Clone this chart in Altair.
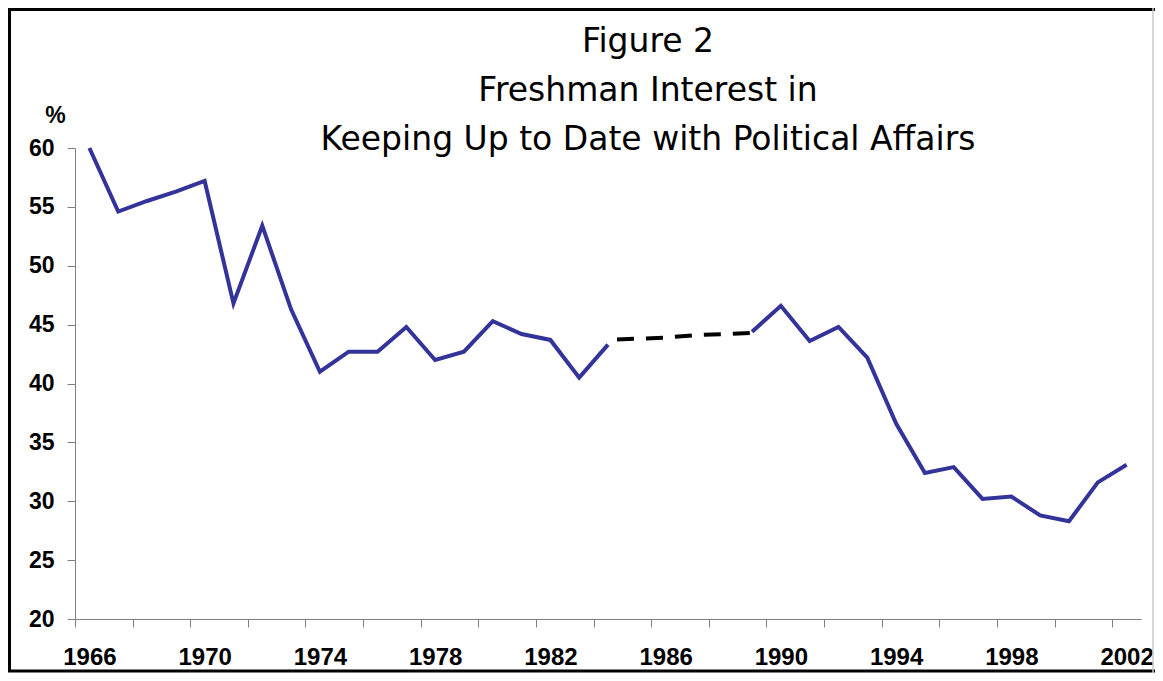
import altair as alt
import pandas as pd

# ---- data ----
years = list(range(1966, 2003))
interest = [60.0, 54.6, 55.5, 56.3, 57.2, 46.8, 53.4, 46.3, 41.0, 42.7,
            42.7, 44.8, 42.0, 42.7, 45.3, 44.2, 43.7, 40.5, 43.3,
            None, None, None, None,
            44.4, 46.6, 43.6, 44.8, 42.2, 36.6, 32.4, 32.9, 30.2, 30.4,
            28.8, 28.3, 31.6, 33.1]
gap_years = [1984, 1985, 1986, 1987, 1988, 1989]
gap_values = [43.7, 43.8, 43.9, 44.1, 44.2, 44.3]
y_ticks = [20, 25, 30, 35, 40, 45, 50, 55, 60]
title_lines = ["Figure 2", "Freshman Interest in",
               "Keeping Up to Date with Political Affairs"]

df = pd.DataFrame({"year": years, "pct": interest})
df["segment"] = ["before" if y < 1985 else "after" for y in years]
df = df.dropna()
gap_df = pd.DataFrame({"year": gap_years, "pct": gap_values})

PAD_L, PAD_T = 67, 140
W, H = 1066, 471
band = W / len(years)
tick_pos = [y - 0.5 for y in years] + [years[-1] + 0.5]

AXIS_GRAY = "#808080"
x_enc = alt.X(
    "year:Q",
    scale=alt.Scale(domain=[years[0] - 0.5, years[-1] + 0.5], nice=False, zero=False),
    axis=alt.Axis(
        values=tick_pos,
        labelExpr="(datum.value + 0.5 - 1966) % 4 == 0 ? format(datum.value + 0.5, 'd') : ''",
        labelOffset=band / 2,
        labelFlush=False,
        labelOverlap=False,
        labelBound=False,
        tickSize=8,
        tickColor=AXIS_GRAY,
        domainColor=AXIS_GRAY,
        labelFont="Liberation Sans",
        labelFontWeight="bold",
        labelFontSize=24,
        labelColor="black",
        labelPadding=18,
        grid=False,
        title=None,
    ),
)
y_enc = alt.Y(
    "pct:Q",
    scale=alt.Scale(domain=[20, 60], nice=False, zero=False),
    axis=alt.Axis(
        values=y_ticks,
        tickSize=8,
        tickColor=AXIS_GRAY,
        domainColor=AXIS_GRAY,
        labelFont="Liberation Sans",
        labelFontWeight="bold",
        labelFontSize=23,
        labelColor="black",
        labelPadding=13,
        grid=False,
        title="%",
        titleAngle=0,
        titleX=-20,
        titleY=-33,
        titleAlign="center",
        titleBaseline="middle",
        titleFont="Liberation Sans",
        titleFontWeight="bold",
        titleFontSize=23,
        titleColor="black",
    ),
)

solid = alt.Chart(df).mark_line(color="#333399", strokeWidth=4).encode(
    x=x_enc, y=y_enc, detail="segment:N"
)
dashed = alt.Chart(gap_df).mark_line(
    color="black", strokeWidth=4, strokeDash=[17, 12], strokeDashOffset=20
).encode(x=alt.X("year:Q"), y=alt.Y("pct:Q"))

frame_data = alt.Data(values=[{"k": 0}])
title_text = alt.Chart(frame_data).mark_text(
    text="\n".join(title_lines),
    lineBreak="\n",
    lineHeight=49,
    font="DejaVu Sans",
    fontSize=33,
    color="black",
    align="center",
    baseline="top",
).encode(x=alt.value(573), y=alt.value(-122))

border = alt.Chart(frame_data).mark_rect(
    fill=None, stroke="black", strokeWidth=3, clip=False
).encode(
    x=alt.value(1.5 - PAD_L), x2=alt.value(1100), y=alt.value(1.5 - PAD_T), y2=alt.value(523)
)
right_edge = alt.Chart(frame_data).mark_rule(color="#c8c8c8", strokeWidth=1.5).encode(
    x=alt.value(1078), y=alt.value(-PAD_T), y2=alt.value(525)
)

chart = (
    alt.layer(solid, dashed, title_text, border, right_edge)
    .properties(
        width=W,
        height=H,
        autosize=alt.AutoSizeParams(type="none"),
        padding={"left": PAD_L, "top": PAD_T, "right": 1147 - PAD_L - W, "bottom": 54},
    )
    .configure(background="white")
    .configure_view(stroke=None)
)

chart.save("out.html", embed_options={"renderer": "svg", "actions": False})
